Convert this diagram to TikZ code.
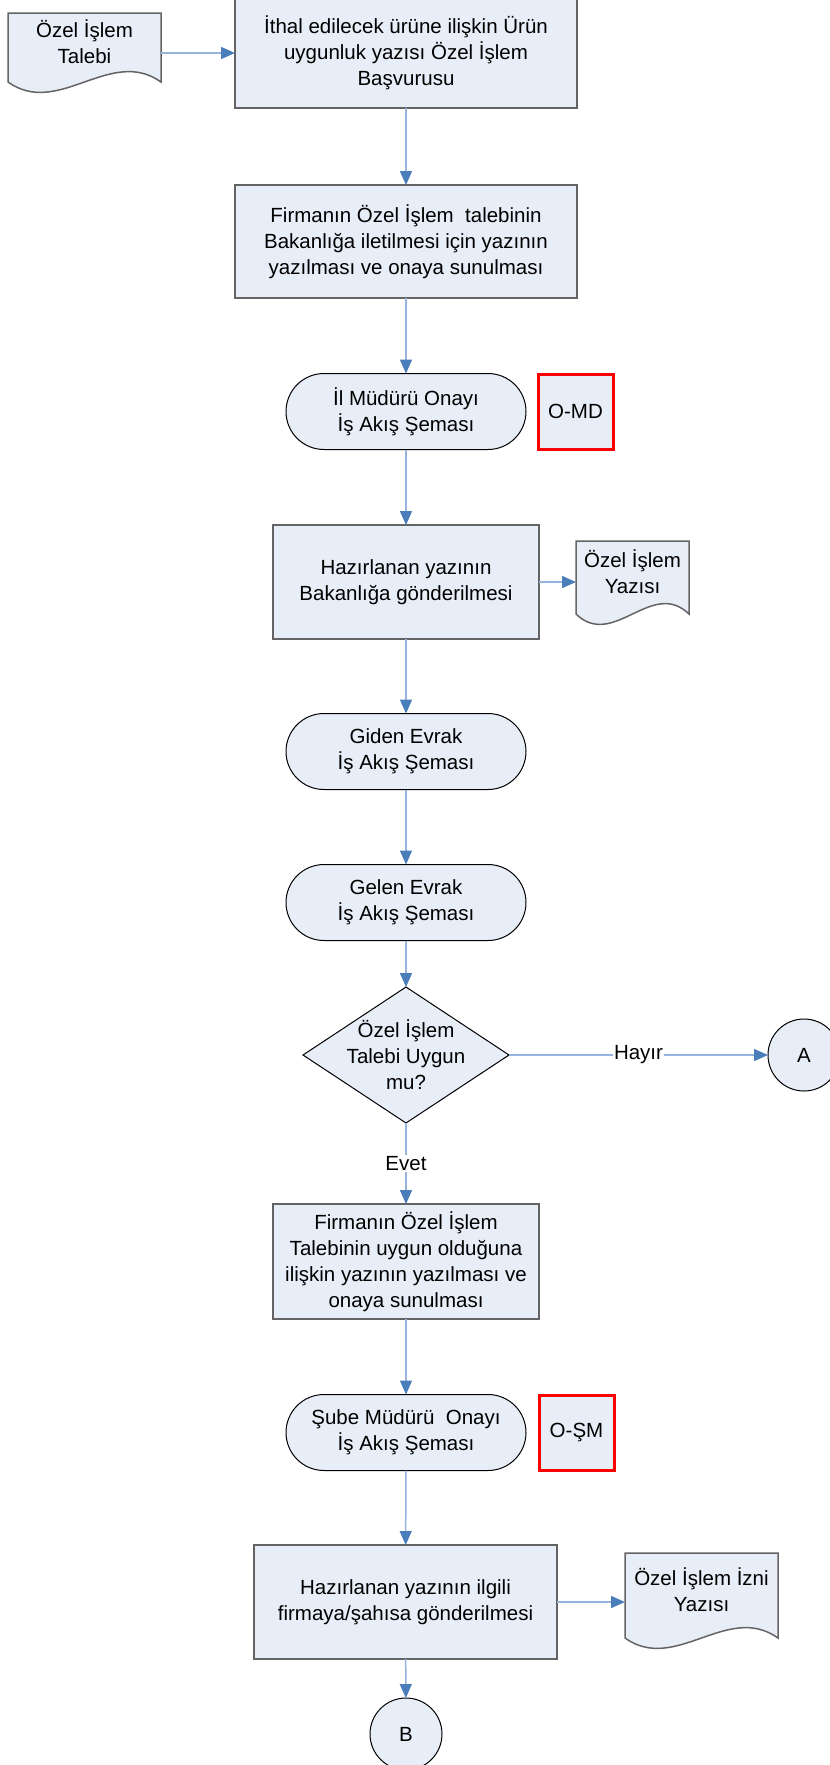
\documentclass[tikz,border=0pt]{standalone}
\usepackage{fontspec}
\setmainfont{Liberation Sans}
\usetikzlibrary{arrows.meta}
\usetikzlibrary{shapes}
\usetikzlibrary{calc}
\usetikzlibrary{backgrounds}
\definecolor{kutu}{RGB}{232,238,247}
\definecolor{kenar}{RGB}{100,100,100}
\definecolor{hat}{RGB}{150,180,220}
\definecolor{uc}{RGB}{74,126,187}
\newcommand{\belgeciz}[1]{\filldraw[belgecizgi] (#1.north west) -- (#1.north east) -- ($(#1.south east)+(0,11)$) .. controls ($(#1.south east)!0.33!(#1.south west)+(0,-25)$) and ($(#1.south east)!0.67!(#1.south west)+(0,47)$) .. ($(#1.south west)+(0,11)$) -- cycle;}

\begin{document}
\begin{tikzpicture}[x=1pt,y=-1pt,
  every node/.style={font=\fontsize{20.5}{26}\selectfont, align=center, inner sep=0pt, outer sep=0pt},
  islem/.style={rectangle, draw=kenar, line width=1.5pt, fill=kutu},
  uclu/.style={rectangle, rounded corners=38pt, draw=black, line width=1pt, fill=kutu, minimum width=240pt, minimum height=76pt},
  onay/.style={rectangle, draw=red, line width=3pt, fill=kutu, minimum size=75pt},
  belge/.style={rectangle},
  belgecizgi/.style={draw=kenar, line width=1.5pt, fill=kutu},
  karar/.style={diamond, aspect=1.5, draw=black, line width=1pt, fill=kutu, minimum width=206pt, minimum height=136pt},
  baglanti/.style={circle, draw=black, line width=1pt, fill=kutu, minimum size=72pt},
  ok/.style={draw=hat, line width=1.5pt, -{Triangle[length=14pt,width=12pt,color=uc]}}]
\useasboundingbox (0,0) rectangle (830,1765);
\node[belge, minimum width=153pt, minimum height=58pt] (talep) at (84.5,42) {Özel İşlem\\Talebi};
\node[islem, minimum width=342pt, minimum height=110pt] (ithal) at (406,53) {İthal edilecek ürüne ilişkin Ürün\\uygunluk yazısı Özel İşlem\\Başvurusu};
\node[islem, minimum width=342pt, minimum height=113pt] (yazim) at (406,241.5) {Firmanın Özel İşlem~ talebinin\\Bakanlığa iletilmesi için yazının\\yazılması ve onaya sunulması};
\node[uclu] (ilmudur) at (406,411.5) {İl Müdürü Onayı\\İş Akış Şeması};
\node[onay] (omd) at (575.5,411.5) {O-MD};
\node[islem, minimum width=266pt, minimum height=114pt] (gonder) at (406,582) {Hazırlanan yazının\\Bakanlığa gönderilmesi};
\node[belge, minimum width=113pt, minimum height=62pt] (ozelyazi) at (632.5,572) {Özel İşlem\\Yazısı};
\node[uclu] (giden) at (406,751.5) {Giden Evrak\\İş Akış Şeması};
\node[uclu] (gelen) at (406,902.5) {Gelen Evrak\\İş Akış Şeması};
\node[karar, label={center:Özel İşlem\\Talebi Uygun\\mu?}] (uygunmu) at (406,1055) {};
\node[baglanti] (A) at (804,1055) {A};
\node[islem, minimum width=266pt, minimum height=115pt] (uygun) at (406,1261.5) {Firmanın Özel İşlem\\Talebinin uygun olduğuna\\ilişkin yazının yazılması ve\\onaya sunulması};
\node[uclu] (sube) at (406,1432.5) {Şube Müdürü~ Onayı\\İş Akış Şeması};
\node[onay] (osm) at (576.5,1432.5) {O-ŞM};
\node[islem, minimum width=303pt, minimum height=114pt] (firmaya) at (405.5,1602) {Hazırlanan yazının ilgili\\firmaya/şahısa gönderilmesi};
\node[belge, minimum width=153pt, minimum height=74pt] (izin) at (701.5,1590) {Özel İşlem İzni\\Yazısı};
\node[baglanti] (B) at (406,1734) {B};
\begin{scope}[on background layer]
\belgeciz{talep}
\belgeciz{ozelyazi}
\belgeciz{izin}
\end{scope}
\draw[ok] (talep.east |- ithal.west) -- (ithal.west);
\draw[ok] (ithal) -- (yazim);
\draw[ok] (yazim) -- (ilmudur);
\draw[ok] (ilmudur) -- (gonder);
\draw[ok] (gonder.east) -- (gonder.east -| ozelyazi.west);
\draw[ok] (gonder) -- (giden);
\draw[ok] (giden) -- (gelen);
\draw[ok] (gelen) -- (uygunmu);
\draw[ok] (uygunmu) -- (A) node[midway, fill=white, inner sep=1pt]{Hayır};
\draw[ok] (uygunmu) -- (uygun) node[midway, fill=white, inner sep=1pt]{Evet};
\draw[ok] (uygun) -- (sube);
\draw[ok] (sube) -- (firmaya);
\draw[ok] (firmaya.east) -- (firmaya.east -| izin.west);
\draw[ok] (firmaya) -- (B);
\end{tikzpicture}
\end{document}
